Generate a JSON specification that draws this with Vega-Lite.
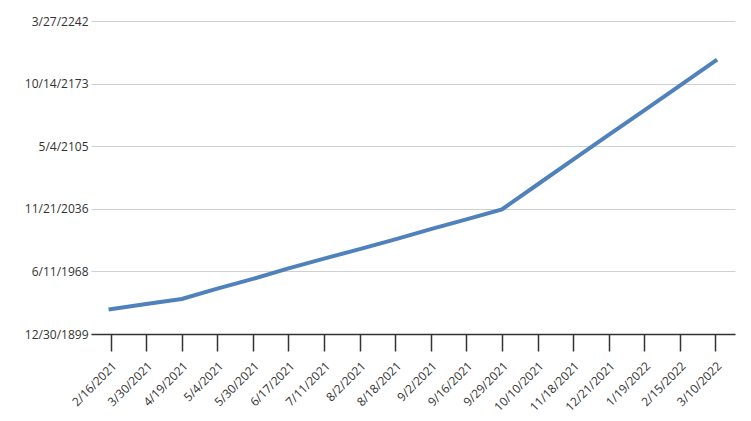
{
  "$schema": "https://vega.github.io/schema/vega-lite/v6.json",
  "width": 644,
  "height": 313,
  "autosize": "none",
  "padding": {"left": 91, "top": 21, "right": 16, "bottom": 87},
  "background": "white",
  "config": {"view": {"stroke": null}, "font": "Open Sans"},
  "data": {"values": [
    {"date": "2/16/2021", "value": 9900},
    {"date": "3/30/2021", "value": 12000},
    {"date": "4/19/2021", "value": 14000},
    {"date": "5/4/2021", "value": 18100},
    {"date": "5/30/2021", "value": 22000},
    {"date": "6/17/2021", "value": 26200},
    {"date": "7/11/2021", "value": 30100},
    {"date": "8/2/2021", "value": 33900},
    {"date": "8/18/2021", "value": 37800},
    {"date": "9/2/2021", "value": 41900},
    {"date": "9/16/2021", "value": 45800},
    {"date": "9/29/2021", "value": 49800},
    {"date": "10/10/2021", "value": 59700},
    {"date": "11/18/2021", "value": 69600},
    {"date": "12/21/2021", "value": 79500},
    {"date": "1/19/2022", "value": 89300},
    {"date": "2/15/2022", "value": 99200},
    {"date": "3/10/2022", "value": 109100}
  ]},
  "mark": {"type": "line", "color": "#4f81bd", "strokeWidth": 4, "strokeCap": "square"},
  "encoding": {
    "x": {
      "field": "date", "type": "ordinal", "sort": null,
      "scale": {"type": "point", "padding": 0.55},
      "axis": {
        "title": null, "labelAngle": -45, "labelFontSize": 12, "labelColor": "#333333",
        "domainColor": "#333333", "domainWidth": 1.5, "tickColor": "#333333", "tickSize": 17,
        "tickWidth": 1.5, "labelPadding": 9, "grid": false
      }
    },
    "y": {
      "field": "value", "type": "quantitative",
      "scale": {"domain": [0, 125000], "nice": false},
      "axis": {
        "title": null, "values": [0, 25000, 50000, 75000, 100000, 125000],
        "labelExpr": "utcFormat((datum.value - 25569) * 86400000, '%-m/%-d/%Y')",
        "domain": false, "ticks": false, "labelPadding": 3, "labelFontSize": 12,
        "labelColor": "#333333", "gridColor": "#d0d0d0", "gridWidth": 1
      }
    }
  }
}
